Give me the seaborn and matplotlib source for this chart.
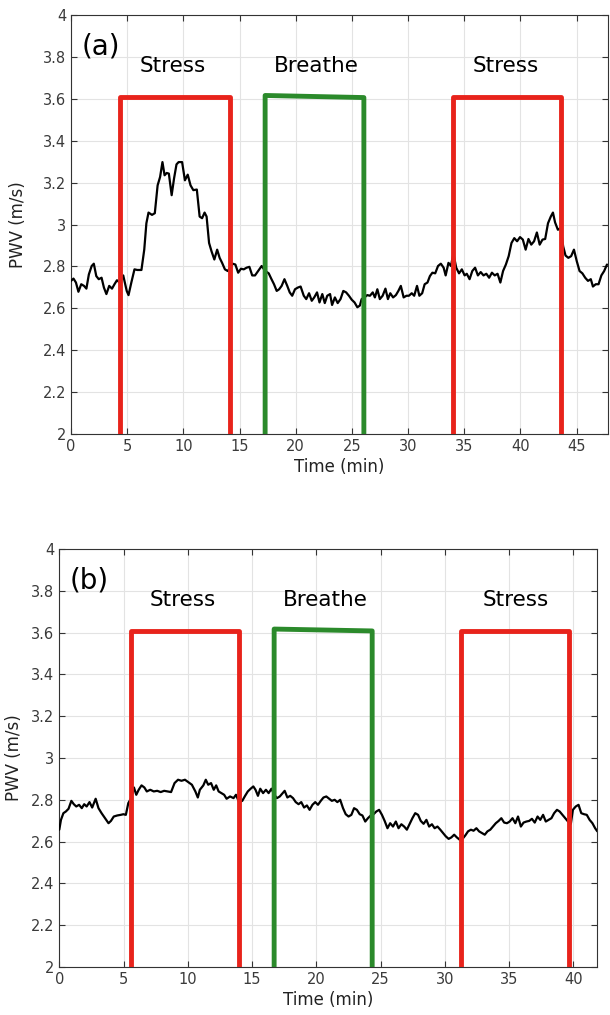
import matplotlib
matplotlib.use("Agg")
import matplotlib.pyplot as plt
import pandas as pd
import seaborn as sns

# ---- panel (a): PWV trace ----
time_a = [0.0, 0.22, 0.44, 0.66, 0.91, 1.16, 1.37, 1.59, 1.84, 2.03, 2.25, 2.47, 2.72, 2.93,
          3.15, 3.40, 3.65, 3.87, 4.09, 4.34, 4.65, 4.96, 5.12, 5.37, 5.65, 5.90, 6.27, 6.52,
          6.71, 6.90, 7.21, 7.46, 7.71, 7.93, 8.14, 8.33, 8.52, 8.71, 8.96, 9.17, 9.39, 9.58,
          9.89, 10.14, 10.39, 10.64, 10.89, 11.20, 11.45, 11.67, 11.89, 12.07, 12.29, 12.51,
          12.76, 13.01, 13.23, 13.45, 13.70, 13.95, 14.17, 14.38, 14.63, 14.88, 15.13, 15.38,
          15.63, 15.88, 16.13, 16.38, 16.66, 16.97, 17.29, 17.60, 17.82, 18.07, 18.31, 18.53,
          18.75, 19.00, 19.25, 19.47, 19.69, 19.94, 20.19, 20.44, 20.72, 20.94, 21.19, 21.43,
          21.65, 21.90, 22.12, 22.37, 22.59, 22.81, 23.06, 23.24, 23.49, 23.74, 23.99, 24.24,
          24.49, 24.74, 24.99, 25.24, 25.49, 25.71, 25.87, 26.12, 26.37, 26.61, 26.86, 27.05,
          27.27, 27.49, 27.74, 27.99, 28.21, 28.42, 28.67, 28.92, 29.14, 29.36, 29.61, 29.86,
          30.08, 30.33, 30.55, 30.80, 31.01, 31.26, 31.48, 31.73, 31.95, 32.17, 32.42, 32.67,
          32.92, 33.17, 33.35, 33.60, 33.82, 34.04, 34.29, 34.54, 34.79, 35.04, 35.23, 35.48,
          35.72, 35.97, 36.22, 36.47, 36.72, 36.97, 37.22, 37.47, 37.72, 37.97, 38.22, 38.46,
          38.71, 38.96, 39.21, 39.46, 39.71, 39.97, 40.22, 40.47, 40.72, 40.97, 41.22, 41.47,
          41.72, 41.97, 42.21, 42.46, 42.71, 42.90, 43.09, 43.34, 43.59, 43.81, 44.02, 44.27,
          44.52, 44.77, 45.02, 45.27, 45.52, 45.77, 46.02, 46.27, 46.46, 46.71, 46.96, 47.21,
          47.46, 47.71]
pwv_a = [2.731, 2.742, 2.723, 2.679, 2.715, 2.707, 2.694, 2.762, 2.802, 2.813, 2.754, 2.739,
         2.746, 2.699, 2.668, 2.707, 2.694, 2.715, 2.734, 2.723, 2.757, 2.683, 2.663, 2.723,
         2.786, 2.783, 2.783, 2.880, 3.006, 3.057, 3.046, 3.054, 3.187, 3.227, 3.298, 3.235,
         3.246, 3.243, 3.140, 3.219, 3.287, 3.298, 3.298, 3.211, 3.238, 3.187, 3.164, 3.167,
         3.038, 3.030, 3.057, 3.038, 2.912, 2.872, 2.833, 2.880, 2.841, 2.817, 2.786, 2.778,
         2.794, 2.813, 2.809, 2.770, 2.789, 2.786, 2.794, 2.798, 2.757, 2.757, 2.778, 2.802,
         2.778, 2.767, 2.742, 2.715, 2.683, 2.691, 2.707, 2.739, 2.707, 2.676, 2.660, 2.691,
         2.699, 2.704, 2.660, 2.644, 2.672, 2.636, 2.652, 2.676, 2.628, 2.668, 2.625, 2.660,
         2.668, 2.616, 2.652, 2.625, 2.644, 2.683, 2.676, 2.660, 2.641, 2.628, 2.605, 2.613,
         2.644, 2.652, 2.663, 2.660, 2.676, 2.652, 2.691, 2.644, 2.660, 2.694, 2.644, 2.672,
         2.652, 2.663, 2.683, 2.707, 2.652, 2.660, 2.660, 2.672, 2.660, 2.707, 2.660, 2.672,
         2.715, 2.723, 2.754, 2.770, 2.767, 2.802, 2.813, 2.794, 2.757, 2.817, 2.802, 2.861,
         2.794, 2.767, 2.786, 2.757, 2.765, 2.739, 2.778, 2.794, 2.757, 2.773, 2.757, 2.765,
         2.746, 2.770, 2.757, 2.765, 2.723, 2.778, 2.809, 2.849, 2.912, 2.935, 2.920, 2.940,
         2.928, 2.880, 2.931, 2.904, 2.920, 2.962, 2.904, 2.928, 2.931, 3.006, 3.038, 3.057,
         3.010, 2.975, 2.983, 2.896, 2.852, 2.841, 2.849, 2.880, 2.825, 2.778, 2.767, 2.746,
         2.731, 2.739, 2.704, 2.715, 2.715, 2.757, 2.778, 2.809]

# ---- panel (b) ----
time_b = [0.0, 0.13, 0.32, 0.51, 0.72, 0.94, 1.13, 1.32, 1.54, 1.75, 1.94, 2.13, 2.35, 2.56,
          2.83, 3.05, 3.29, 3.56, 3.83, 4.02, 4.24, 4.51, 4.78, 4.99, 5.18, 5.37, 5.59, 5.81,
          5.99, 6.18, 6.40, 6.62, 6.81, 7.08, 7.35, 7.62, 7.89, 8.16, 8.43, 8.70, 8.97, 9.24,
          9.51, 9.78, 10.05, 10.32, 10.59, 10.78, 10.94, 11.21, 11.40, 11.59, 11.81, 12.02,
          12.21, 12.40, 12.62, 12.83, 13.02, 13.29, 13.56, 13.75, 13.99, 14.24, 14.46, 14.67,
          14.89, 15.10, 15.27, 15.46, 15.64, 15.86, 16.08, 16.29, 16.51, 16.73, 16.94, 17.16,
          17.38, 17.54, 17.75, 17.97, 18.19, 18.40, 18.62, 18.83, 19.05, 19.27, 19.48, 19.70,
          19.92, 20.13, 20.35, 20.56, 20.78, 21.00, 21.21, 21.43, 21.64, 21.86, 22.08, 22.29,
          22.51, 22.73, 22.94, 23.16, 23.38, 23.59, 23.81, 24.02, 24.24, 24.46, 24.67, 24.89,
          25.11, 25.32, 25.54, 25.75, 25.97, 26.19, 26.40, 26.62, 26.84, 27.05, 27.27, 27.48,
          27.70, 27.92, 28.13, 28.35, 28.57, 28.78, 29.00, 29.21, 29.43, 29.65, 29.86, 30.08,
          30.30, 30.51, 30.73, 30.94, 31.16, 31.38, 31.59, 31.81, 32.03, 32.24, 32.46, 32.67,
          32.89, 33.11, 33.32, 33.54, 33.75, 33.97, 34.19, 34.40, 34.62, 34.84, 35.05, 35.27,
          35.49, 35.70, 35.92, 36.13, 36.35, 36.57, 36.78, 37.00, 37.22, 37.43, 37.65, 37.86,
          38.08, 38.30, 38.51, 38.73, 38.94, 39.16, 39.38, 39.59, 39.81, 39.97, 40.19, 40.41,
          40.62, 40.84, 41.05, 41.27, 41.49, 41.70, 41.87]
pwv_b = [2.657, 2.704, 2.736, 2.744, 2.757, 2.795, 2.779, 2.768, 2.776, 2.760, 2.779, 2.768,
         2.789, 2.763, 2.805, 2.760, 2.736, 2.712, 2.688, 2.699, 2.720, 2.725, 2.728, 2.731,
         2.728, 2.784, 2.808, 2.859, 2.824, 2.848, 2.869, 2.859, 2.840, 2.848, 2.840, 2.843,
         2.837, 2.843, 2.840, 2.837, 2.880, 2.896, 2.891, 2.896, 2.884, 2.872, 2.840, 2.811,
         2.848, 2.869, 2.896, 2.872, 2.880, 2.848, 2.869, 2.840, 2.832, 2.824, 2.805, 2.816,
         2.808, 2.824, 2.789, 2.795, 2.819, 2.840, 2.853, 2.864, 2.848, 2.819, 2.853, 2.832,
         2.848, 2.832, 2.853, 2.824, 2.808, 2.816, 2.832, 2.843, 2.811, 2.819, 2.808, 2.789,
         2.779, 2.789, 2.763, 2.773, 2.752, 2.776, 2.789, 2.776, 2.795, 2.811, 2.816, 2.805,
         2.795, 2.800, 2.789, 2.800, 2.760, 2.731, 2.720, 2.728, 2.760, 2.752, 2.731, 2.725,
         2.696, 2.712, 2.725, 2.731, 2.744, 2.752, 2.728, 2.699, 2.664, 2.688, 2.672, 2.696,
         2.664, 2.683, 2.672, 2.657, 2.685, 2.712, 2.736, 2.728, 2.699, 2.685, 2.704, 2.672,
         2.683, 2.664, 2.672, 2.657, 2.641, 2.625, 2.613, 2.620, 2.633, 2.620, 2.609, 2.613,
         2.629, 2.649, 2.657, 2.652, 2.664, 2.649, 2.641, 2.633, 2.649, 2.657, 2.672, 2.688,
         2.699, 2.712, 2.691, 2.688, 2.696, 2.712, 2.688, 2.720, 2.672, 2.691, 2.696, 2.699,
         2.709, 2.691, 2.720, 2.704, 2.728, 2.696, 2.704, 2.712, 2.736, 2.752, 2.744, 2.728,
         2.712, 2.696, 2.685, 2.752, 2.768, 2.776, 2.736, 2.731, 2.728, 2.704, 2.688, 2.664,
         2.649]

# ---- protocol boxes (start, end, height at left/right corner) ----
phases = ["Stress", "Breathe", "Stress"]
phase_colors = ["#e8231b", "#2b8a2b", "#e8231b"]
start_a = [4.40, 17.28, 33.96]
end_a = [14.16, 26.07, 43.59]
top_left_a = [3.61, 3.616, 3.61]
top_right_a = [3.61, 3.606, 3.61]
label_x_a = [9.1, 21.8, 38.7]
start_b = [5.59, 16.72, 31.30]
end_b = [14.00, 24.35, 39.70]
top_left_b = [3.61, 3.617, 3.61]
top_right_b = [3.61, 3.608, 3.61]
label_x_b = [9.6, 20.7, 35.5]
label_y = 3.755

xmax_a = 47.8
xmax_b = 41.87
x_ticks_a = [0, 5, 10, 15, 20, 25, 30, 35, 40, 45]
x_ticks_b = [0, 5, 10, 15, 20, 25, 30, 35, 40]
y_ticks = [2, 2.2, 2.4, 2.6, 2.8, 3, 3.2, 3.4, 3.6, 3.8, 4]

sns.set_theme(style="whitegrid")
plt.rcParams["font.family"] = ["DejaVu Sans"]

fig = plt.figure(figsize=(6.1, 10.15), dpi=100)
ax_a = fig.add_axes([0.1164, 0.5724, 0.8803, 0.4128])
ax_b = fig.add_axes([0.0972, 0.0473, 0.8820, 0.4118])


def draw_panel(ax, t, pwv, starts, ends, tops_l, tops_r, label_xs, xmax, xticks, tag, tag_x, ypad):
    sns.lineplot(x=t, y=pwv, ax=ax, color="black", linewidth=1.6, zorder=3,
                 estimator=None, errorbar=None, sort=False)
    for s, e, tl, tr, c in zip(starts, ends, tops_l, tops_r, phase_colors):
        box = pd.DataFrame({"x": [s, s, e, e], "y": [2, tl, tr, 2]})
        sns.lineplot(data=box, x="x", y="y", ax=ax, sort=False, estimator=None,
                     errorbar=None, color=c, linewidth=3.5, zorder=4)
    for name, lx in zip(phases, label_xs):
        ax.text(lx, label_y, name, ha="center", va="center", fontsize=15.5, color="black")
    ax.text(tag_x, 3.85, tag, ha="center", va="center", fontsize=20, color="black")

    ax.set_xlim(0, xmax)
    ax.set_ylim(2, 4)
    ax.set_xticks(xticks)
    ax.set_yticks(y_ticks)
    ax.set_yticklabels([f"{v:g}" for v in y_ticks])
    ax.grid(True, color="#e3e3e3", linewidth=0.8)
    ax.tick_params(direction="in", length=4, width=0.8, colors="#333333",
                   labelsize=10.5, labelcolor="#3a3a3a",
                   top=True, right=True, bottom=True, left=True)
    for sp in ax.spines.values():
        sp.set_visible(True)
        sp.set_color("#333333")
        sp.set_linewidth(0.8)
    ax.set_xlabel("Time (min)", fontsize=12, color="#222222", labelpad=3)
    ax.set_ylabel("PWV (m/s)", fontsize=12, color="#222222", labelpad=ypad)


draw_panel(ax_a, time_a, pwv_a, start_a, end_a, top_left_a, top_right_a,
           label_x_a, xmax_a, x_ticks_a, "(a)", 2.67, 11)
draw_panel(ax_b, time_b, pwv_b, start_b, end_b, top_left_b, top_right_b,
           label_x_b, xmax_b, x_ticks_b, "(b)", 2.3, 6)

fig.savefig("out.png", dpi=100, facecolor="white")
